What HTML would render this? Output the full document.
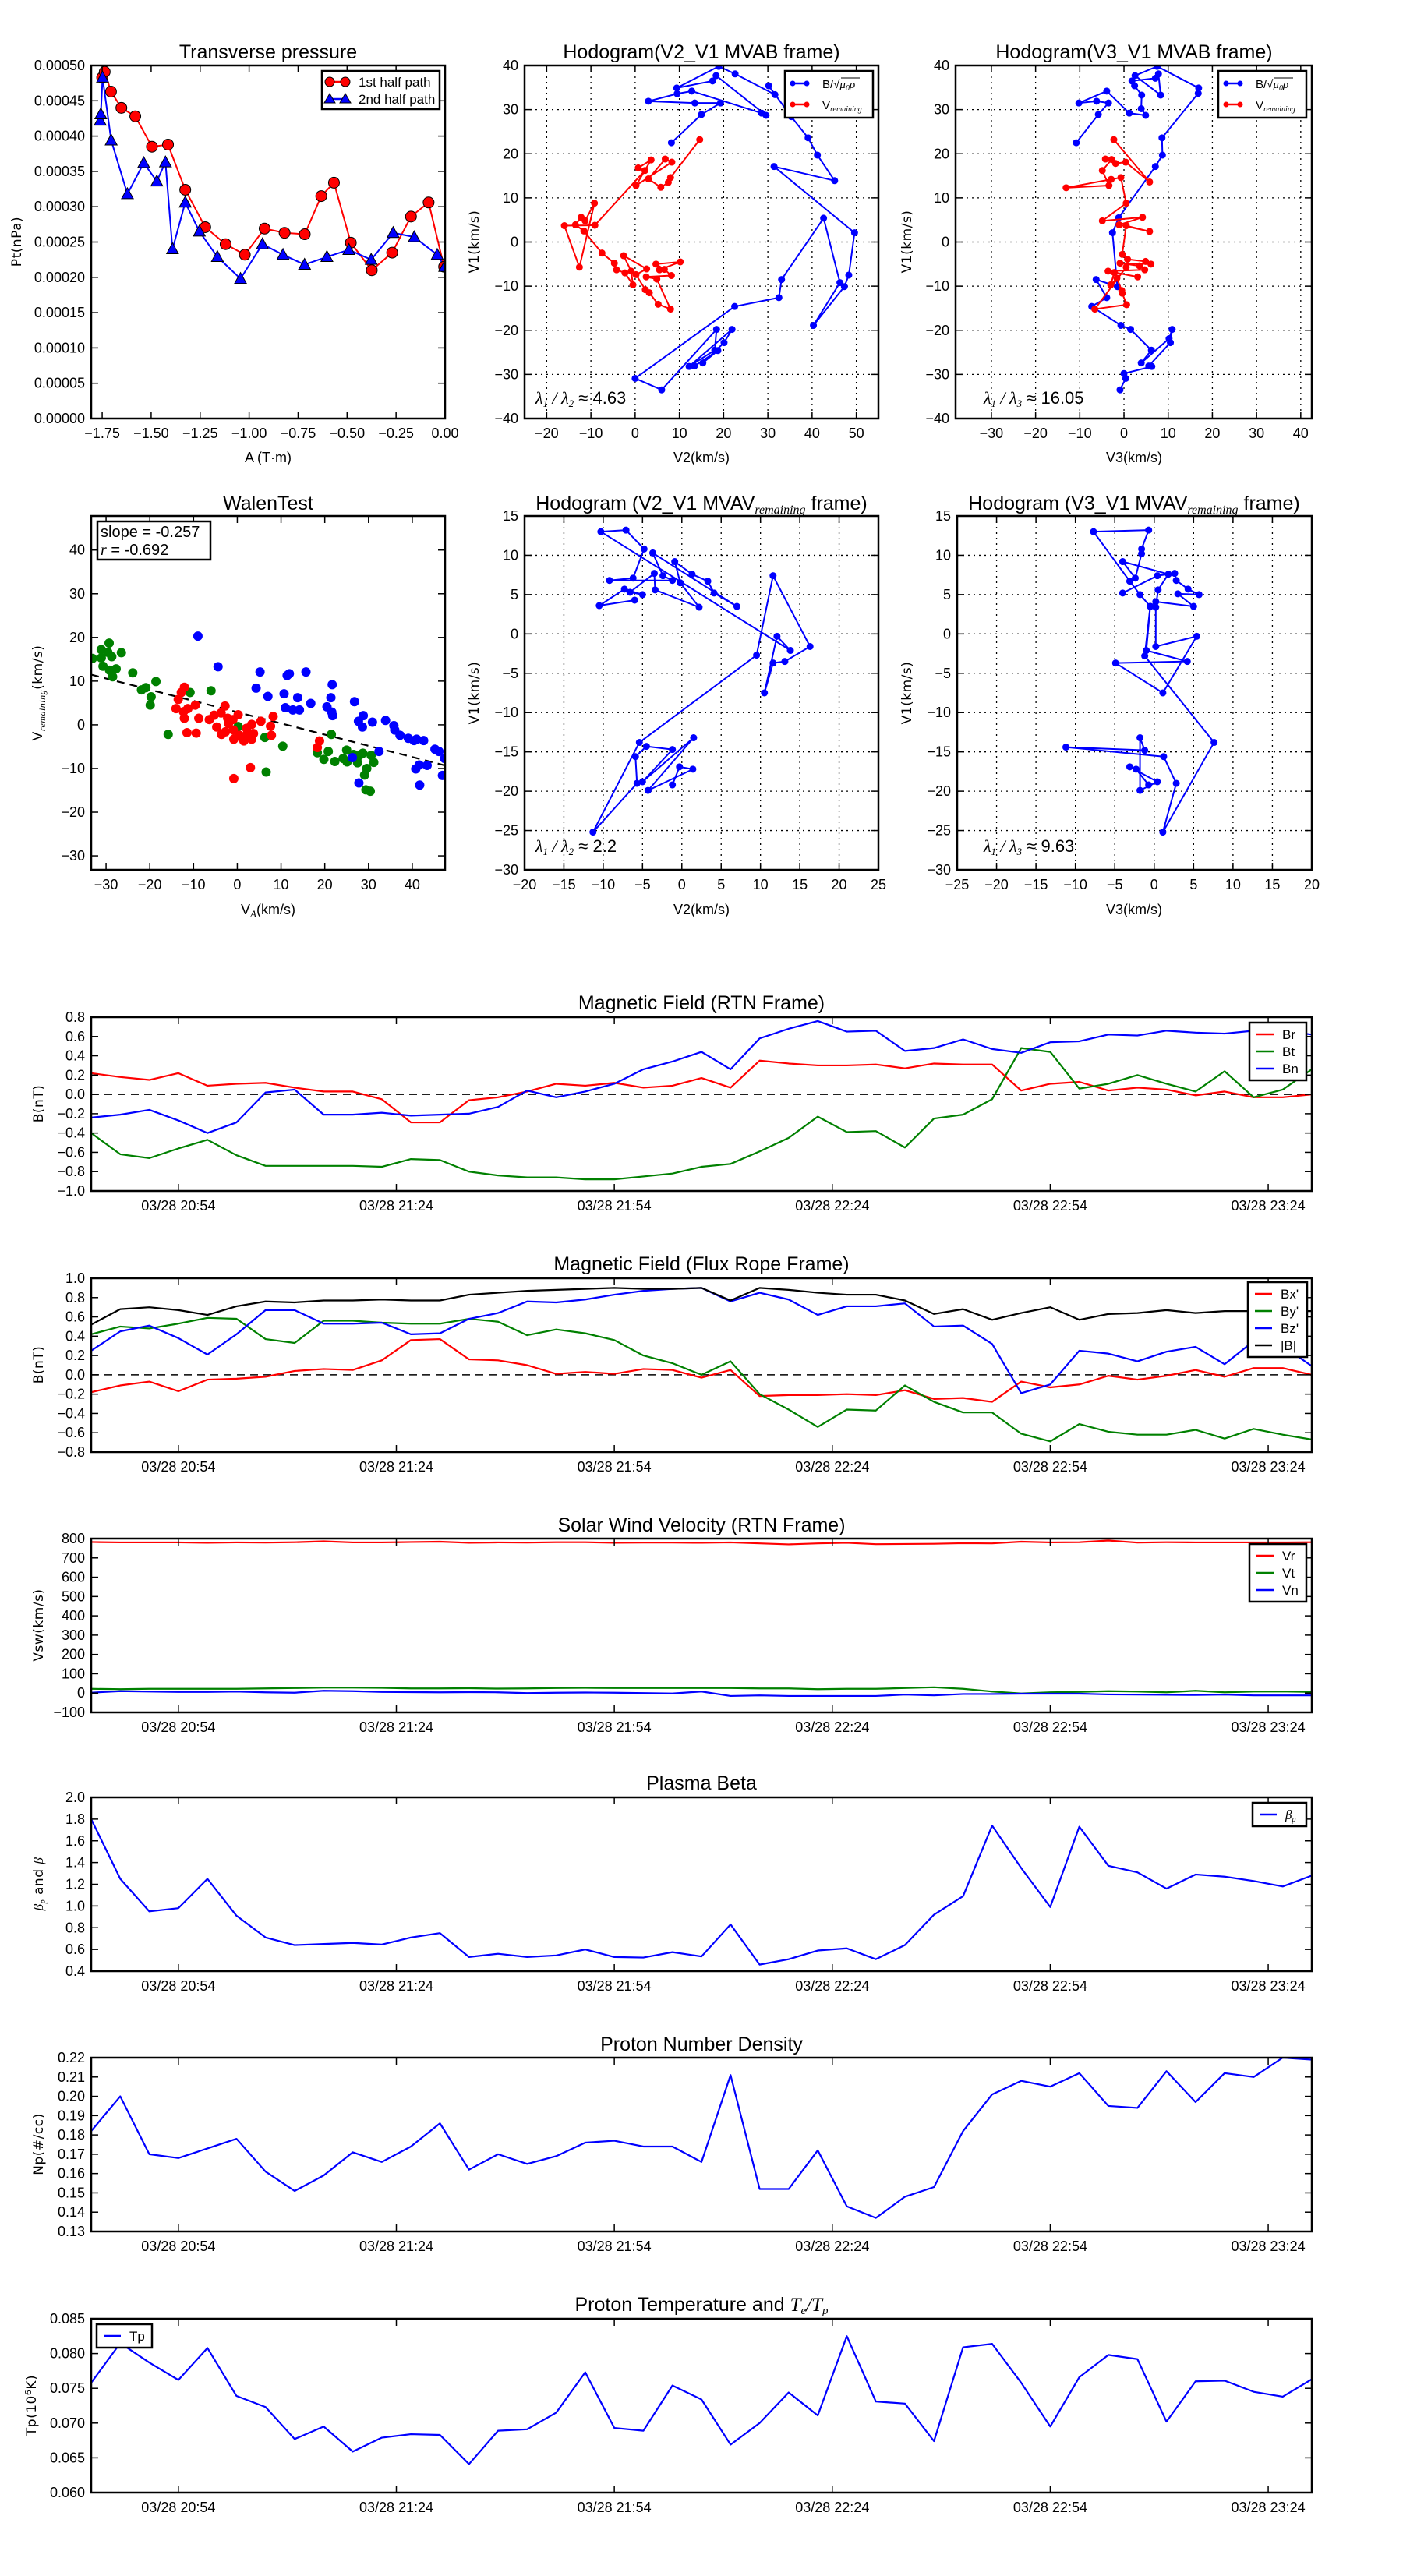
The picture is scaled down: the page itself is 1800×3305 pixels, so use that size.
<!DOCTYPE html>
<html><head><meta charset="utf-8"><title>Flux rope analysis</title>
<style>
body{margin:0;background:#fff}
svg text{font-family:"Liberation Sans",sans-serif;fill:#000}
.ti{font-size:25px}
.lb{font-family:"DejaVu Sans","Liberation Sans",sans-serif;font-size:17px;letter-spacing:0.5px}
.tk{font-size:18px}
.lg{font-size:17px}
.mt{font-family:"Liberation Serif",serif;font-style:italic}
</style></head>
<body>
<svg id="fig" width="1800" height="3300" xmlns="http://www.w3.org/2000/svg">
<rect x="0" y="0" width="1800" height="3300" fill="#fff"/>
<text class="ti" x="344" y="75" text-anchor="middle">Transverse pressure</text>
<text class="ti" x="900" y="75" text-anchor="middle">Hodogram(V2_V1 MVAB frame)</text>
<text class="ti" x="1455" y="75" text-anchor="middle">Hodogram(V3_V1 MVAB frame)</text>
<text class="ti" x="344" y="654" text-anchor="middle">WalenTest</text>
<text class="ti" x="900" y="654" text-anchor="middle">Hodogram (V2_V1 MVAV<tspan class="mt" font-size="16" dy="5">remaining</tspan><tspan dy="-5"> frame)</tspan></text>
<text class="ti" x="1455" y="654" text-anchor="middle">Hodogram (V3_V1 MVAV<tspan class="mt" font-size="16" dy="5">remaining</tspan><tspan dy="-5"> frame)</tspan></text>
<text class="ti" x="900" y="1295" text-anchor="middle">Magnetic Field (RTN Frame)</text>
<text class="ti" x="900" y="1630" text-anchor="middle">Magnetic Field (Flux Rope Frame)</text>
<text class="ti" x="900" y="1965" text-anchor="middle">Solar Wind Velocity (RTN Frame)</text>
<text class="ti" x="900" y="2296" text-anchor="middle">Plasma Beta</text>
<text class="ti" x="900" y="2631" text-anchor="middle">Proton Number Density</text>
<text class="ti" x="900" y="2965" text-anchor="middle">Proton Temperature and <tspan class="mt">T</tspan><tspan class="mt" font-size="15" dy="4">e</tspan><tspan class="mt" dy="-4">/T</tspan><tspan class="mt" font-size="15" dy="4">p</tspan></text>
<text class="tk" x="344" y="593" text-anchor="middle">A (T·m)</text>
<text class="tk" x="900" y="593" text-anchor="middle">V2(km/s)</text>
<text class="tk" x="1455" y="593" text-anchor="middle">V3(km/s)</text>
<text class="tk" x="344" y="1173" text-anchor="middle">V<tspan class="mt" font-size="13" dy="4">A</tspan><tspan dy="-4">(km/s)</tspan></text>
<text class="tk" x="900" y="1173" text-anchor="middle">V2(km/s)</text>
<text class="tk" x="1455" y="1173" text-anchor="middle">V3(km/s)</text>
<text class="lb" transform="translate(27,310) rotate(-90)" text-anchor="middle">Pt(nPa)</text>
<text class="lb" transform="translate(614,310) rotate(-90)" text-anchor="middle">V1(km/s)</text>
<text class="lb" transform="translate(1169,310) rotate(-90)" text-anchor="middle">V1(km/s)</text>
<text class="lb" transform="translate(54,889) rotate(-90)" text-anchor="middle">V<tspan class="mt" font-size="12" dy="4">remaining</tspan><tspan dy="-4">(km/s)</tspan></text>
<text class="lb" transform="translate(614,889) rotate(-90)" text-anchor="middle">V1(km/s)</text>
<text class="lb" transform="translate(1169,889) rotate(-90)" text-anchor="middle">V1(km/s)</text>
<text class="lb" transform="translate(55,1416) rotate(-90)" text-anchor="middle">B(nT)</text>
<text class="lb" transform="translate(55,1751) rotate(-90)" text-anchor="middle">B(nT)</text>
<text class="lb" transform="translate(55,2085) rotate(-90)" text-anchor="middle">Vsw(km/s)</text>
<text class="lb" font-size="14" transform="translate(55,2417) rotate(-90)" text-anchor="middle"><tspan class="mt">β</tspan><tspan class="mt" font-size="10" dy="3">p</tspan><tspan dy="-3"> and </tspan><tspan class="mt">β</tspan></text>
<text class="lb" transform="translate(55,2751) rotate(-90)" text-anchor="middle">Np(#/cc)</text>
<text class="lb" transform="translate(46,3086) rotate(-90)" text-anchor="middle">Tp(10<tspan font-size="11" dy="-6">6</tspan><tspan dy="6">K)</tspan></text>
<text font-size="22" x="687" y="518"><tspan class="mt">λ</tspan><tspan class="mt" font-size="13" dy="4">1</tspan><tspan class="mt" dy="-4"> / λ</tspan><tspan class="mt" font-size="13" dy="4">2</tspan><tspan dy="-4"> ≈ 4.63</tspan></text>
<text font-size="22" x="1262" y="518"><tspan class="mt">λ</tspan><tspan class="mt" font-size="13" dy="4">1</tspan><tspan class="mt" dy="-4"> / λ</tspan><tspan class="mt" font-size="13" dy="4">3</tspan><tspan dy="-4"> ≈ 16.05</tspan></text>
<text font-size="22" x="687" y="1093"><tspan class="mt">λ</tspan><tspan class="mt" font-size="13" dy="4">1</tspan><tspan class="mt" dy="-4"> / λ</tspan><tspan class="mt" font-size="13" dy="4">2</tspan><tspan dy="-4"> ≈ 2.2</tspan></text>
<text font-size="22" x="1262" y="1093"><tspan class="mt">λ</tspan><tspan class="mt" font-size="13" dy="4">1</tspan><tspan class="mt" dy="-4"> / λ</tspan><tspan class="mt" font-size="13" dy="4">3</tspan><tspan dy="-4"> ≈ 9.63</tspan></text>
</svg>
<script>
const ptRedA=[-1.75,-1.737,-1.705,-1.652,-1.581,-1.496,-1.414,-1.326,-1.224,-1.12,-1.022,-0.921,-0.819,-0.716,-0.632,-0.567,-0.481,-0.374,-0.27,-0.174,-0.084,-0.005];
const ptRedP=[0.000483,0.000491,0.000463,0.00044,0.000428,0.000385,0.000388,0.000324,0.000271,0.000247,0.000232,0.000269,0.000263,0.000261,0.000315,0.000334,0.000249,0.00021,0.000235,0.000286,0.000306,0.000215];
const ptBlueA=[-1.76,-1.757,-1.748,-1.704,-1.621,-1.538,-1.471,-1.427,-1.391,-1.326,-1.254,-1.162,-1.044,-0.932,-0.827,-0.717,-0.603,-0.491,-0.377,-0.265,-0.157,-0.04,-0.002];
const ptBlueP=[0.000422,0.000431,0.000483,0.000394,0.000318,0.000362,0.000336,0.000363,0.00024,0.000306,0.000265,0.000229,0.000198,0.000247,0.000232,0.000218,0.000229,0.000239,0.000225,0.000263,0.000257,0.000232,0.000215];
const hbBlueV2=[8.2,15.0,19.3,13.5,3.0,9.5,12.8,28.6,29.6,18.3,17.5,9.4,18.9,22.6,31.6,30.2,35.3,39.1,41.2,45.1,31.4,49.6,48.3,47.3,40.3,46.3,42.6,33.1,32.5,22.5,0,6.0,18.4,18.0,12.2,21.9,20.1,15.3,18.7,13.4];
const hbBlueV1=[22.5,28.9,31.5,31.5,31.9,33.6,34.2,29.2,28.7,37.7,36.5,34.9,39.8,38.1,33.4,35.4,28.4,23.6,19.7,13.9,17.1,2.1,-7.5,-10.1,-18.9,-9.2,5.4,-8.5,-12.6,-14.6,-30.9,-33.5,-19.8,-24.5,-28.2,-19.8,-22.8,-27.4,-24.6,-28.1];
const hbRedV2=[14.6,8.0,7.5,5.8,3.0,6.8,8.3,0.2,3.6,0.7,2.2,-9.1,-16.0,-12.6,-9.2,-11.3,-12.2,-13.5,-11.6,-7.5,-4.7,-4.2,-2.3,-0.5,-0.9,-2.6,2.6,0.2,2.3,3.2,5.2,8.0,4.9,2.5,8.2,6.6,4.7,10.2,5.5];
const hbRedV1=[23.2,14.6,13.5,12.4,14.3,18.8,18.1,12.8,18.6,16.8,16.2,3.8,3.7,-5.7,8.8,4.8,5.6,3.9,2.5,-2.5,-4.8,-6.3,-7.0,-9.7,-6.6,-3.1,-6.1,-7.4,-10.8,-11.5,-14.1,-15.2,-8.4,-7.9,-7.6,-6.2,-5.0,-4.5,-6.3];
const hcBlueV3=[-10.8,-5.8,-3.5,-6.2,-10.2,-3.9,1.2,4.9,3.9,4.0,2.4,1.8,7.1,7.8,8.3,2.5,7.5,16.9,16.8,8.6,8.7,7.1,-1.2,-2.6,-1.5,-6.3,-3.9,-7.3,-0.7,1.5,6.2,3.9,10.2,10.9,10.5,5.6,6.3,0,0.4,-0.9];
const hcBlueV1=[22.5,28.9,31.5,31.9,31.5,34.2,29.2,28.7,30.2,33.3,35.4,36.5,37.1,38.1,33.3,37.7,39.8,34.9,33.7,23.6,19.7,17.1,5.5,2.1,-10.1,-8.5,-12.6,-14.6,-18.9,-19.8,-24.5,-27.4,-21.9,-19.8,-22.8,-28.1,-28.2,-29.8,-30.9,-33.5];
const hcRedV3=[-2.3,5.8,0.4,-1.9,-4.2,-2.8,-4.9,-3.4,-13.1,-2.9,-0.7,0.5,-4.9,4.2,-1.1,5.8,0.5,-0.4,0.8,4.9,6.1,-0.9,3.5,4.7,-3.6,3.1,-2.2,-3.0,-1.6,-0.5,-0.4,0.6,-6.6,0.5];
const hcRedV1=[23.2,13.6,18.1,17.8,18.8,18.7,16.2,12.8,12.3,14.2,14.6,8.8,4.8,5.6,3.9,2.4,3.7,-2.8,-3.9,-4.4,-5.0,-4.8,-5.4,-6.3,-6.6,-7.9,-6.9,-9.7,-8.2,-11.0,-11.6,-14.2,-15.2,-5.7];
const wGreenX=[-33.1,-31.1,-29.3,-31.1,-29.6,-28.7,-26.5,-30.7,-29.2,-27.7,-28.5,-23.9,-21.9,-20.9,-18.6,-19.7,-19.9,-15.8,-10.8,-6.0,0.2,6.3,6.6,10.4,21.5,18.3,20.8,19.8,22.3,25.0,24.2,25.1,26.6,27.5,28.7,27.8,30.6,31.2,29.6,29.1,29.4,30.4];
const wGreenY=[15.2,17.2,18.7,15.3,16.6,15.6,16.5,13.4,12.5,12.8,11.0,11.9,8.0,8.5,9.9,6.4,4.5,-2.2,7.4,7.8,-0.4,-2.9,-10.8,-4.9,-2.2,-6.4,-6.1,-7.9,-8.4,-5.8,-7.7,-8.5,-6.8,-8.7,-6.5,-7.1,-7.0,-8.6,-10.0,-11.5,-14.9,-15.2];
const wRedX=[-12.1,-12.8,-13.5,-14.0,-12.3,-11.3,-12.1,-9.6,-8.8,-11.5,-9.4,-6.4,-5.3,-4.7,-3.7,-2.8,-3.6,-2.7,-2.2,-2.0,-1.0,0.2,-0.9,-0.8,0.5,1.5,2.1,2.3,3.3,3.3,3.7,5.4,7.6,7.8,8.2,3.0,-0.8,18.8,18.3];
const wRedY=[8.6,7.4,5.8,3.7,3.0,3.7,1.5,4.5,1.5,-1.8,-1.9,1.2,2.2,-0.5,2.7,4.3,-2.2,-1.6,1.5,0.3,1.2,2.3,-1.2,-3.3,-2.4,-3.7,-0.8,-2.1,-3.3,0.1,-2.0,0.8,-0.3,-2.4,1.9,-9.8,-12.3,-3.7,-5.2];
const wBlueX=[-9.0,-4.4,5.2,4.3,7.0,10.7,11.4,11.9,15.7,11.0,12.7,14.2,13.8,16.8,21.7,21.4,20.5,21.6,21.8,26.8,27.7,28.6,28.8,30.9,33.9,35.8,36.0,37.2,39.1,40.4,41.0,42.6,45.2,46.1,47.4,32.4,26.3,40.8,41.6,43.4,46.9,41.7,27.8];
const wBlueY=[20.3,13.3,12.1,8.4,6.5,7.1,11.3,11.7,12.1,3.9,3.4,3.4,6.2,4.9,9.2,6.2,4.1,2.9,2.1,5.3,0.8,-0.5,2.1,0.6,1.0,-0.2,-1.2,-2.4,-3.1,-3.6,-3.3,-3.6,-5.6,-6.1,-7.7,-6.1,-7.5,-10.1,-9.2,-9.3,-11.6,-13.8,-13.3];
const walenSlope=-0.257, walenIntercept=2.9;
const heV2=[-6.0,-10.5,-7.3,-5.0,-6.6,-3.5,-3.4,2.2,-0.2,-0.9,1.3,3.3,4.1,7.0,-3.7,-2.4,-1.2,-9.2,-6.2,-4.8,-7.1,-10.3,13.8,12.1,10.5,11.6,13.1,16.3,11.6,9.5,-5.4,-11.3,-5.7,-5.9,-4.5,-1.2,-5.0,1.5,-4.3,1.4,-0.3,-1.2];
const heV1=[4.3,3.6,5.7,5.0,5.3,7.7,5.6,3.4,6.5,9.2,7.6,6.7,5.2,3.5,10.3,7.4,6.8,6.8,7.1,10.8,13.2,13.0,-2.1,-0.3,-7.5,-3.7,-3.5,-1.6,7.4,-2.7,-13.8,-25.2,-19.0,-15.6,-14.3,-14.7,-18.8,-13.2,-19.9,-17.2,-16.9,-19.2];
const hfV3=[-4.0,0.4,2.6,2.8,4.3,5.7,3.0,5.0,0.2,-0.5,-1.8,-3.1,-7.7,-0.7,-1.6,-1.6,-2.4,-4.0,1.8,0.5,0.2,0.2,5.4,1.1,-4.9,4.2,-1.0,-0.5,-1.2,7.6,1.1,2.8,1.2,-11.2,-1.2,-1.8,-1.8,0.4,-3.1,-2.3,-0.7];
const hfV1=[5.2,7.4,7.7,6.8,5.7,5.0,5.1,3.5,4.1,3.5,5.0,6.7,13.0,13.2,10.8,10.2,7.1,9.2,7.6,5.6,3.4,-1.6,-0.3,-7.5,-3.7,-3.5,-2.1,3.5,-2.8,-13.8,-25.2,-19.0,-15.6,-14.4,-14.8,-13.2,-19.9,-18.8,-16.9,-17.2,-19.2];
const timeTickMin=[12,42,72,102,132,162];
const timeTickLabels=["03/28 20:54","03/28 21:24","03/28 21:54","03/28 22:24","03/28 22:54","03/28 23:24"];
const Br=[0.22,0.18,0.15,0.22,0.09,0.11,0.12,0.07,0.03,0.03,-0.05,-0.29,-0.29,-0.06,-0.03,0.03,0.11,0.09,0.12,0.07,0.09,0.17,0.07,0.35,0.32,0.30,0.30,0.31,0.27,0.32,0.31,0.31,0.04,0.11,0.13,0.04,0.07,0.05,-0.01,0.03,-0.03,-0.03,0.00];
const Bt=[-0.40,-0.62,-0.66,-0.56,-0.47,-0.63,-0.74,-0.74,-0.74,-0.74,-0.75,-0.67,-0.68,-0.80,-0.84,-0.86,-0.86,-0.88,-0.88,-0.85,-0.82,-0.75,-0.72,-0.59,-0.45,-0.23,-0.39,-0.38,-0.55,-0.25,-0.21,-0.05,0.48,0.44,0.06,0.11,0.20,0.11,0.03,0.24,-0.03,0.05,0.26];
const Bn=[-0.24,-0.21,-0.16,-0.27,-0.40,-0.29,0.02,0.05,-0.21,-0.21,-0.19,-0.22,-0.21,-0.20,-0.13,0.04,-0.03,0.03,0.11,0.26,0.34,0.44,0.26,0.58,0.68,0.76,0.65,0.66,0.45,0.48,0.57,0.47,0.43,0.54,0.55,0.62,0.61,0.66,0.64,0.63,0.66,0.66,0.62];
const Bxp=[-0.18,-0.11,-0.07,-0.17,-0.05,-0.04,-0.02,0.04,0.06,0.05,0.15,0.36,0.37,0.16,0.15,0.10,0.01,0.03,0.01,0.06,0.05,-0.03,0.05,-0.22,-0.21,-0.21,-0.20,-0.21,-0.16,-0.25,-0.24,-0.28,-0.07,-0.13,-0.10,-0.01,-0.05,-0.01,0.05,-0.02,0.07,0.07,0.00];
const Byp=[0.42,0.50,0.48,0.53,0.59,0.58,0.37,0.33,0.56,0.56,0.54,0.53,0.53,0.58,0.55,0.41,0.47,0.43,0.36,0.20,0.12,0.00,0.14,-0.20,-0.36,-0.54,-0.36,-0.37,-0.11,-0.28,-0.39,-0.39,-0.61,-0.69,-0.51,-0.59,-0.62,-0.62,-0.57,-0.66,-0.56,-0.62,-0.67];
const Bzp=[0.25,0.45,0.51,0.38,0.21,0.42,0.67,0.67,0.53,0.53,0.54,0.42,0.43,0.58,0.64,0.76,0.75,0.78,0.83,0.87,0.89,0.90,0.76,0.85,0.78,0.62,0.71,0.71,0.74,0.50,0.51,0.32,-0.19,-0.10,0.25,0.22,0.14,0.24,0.29,0.11,0.35,0.30,0.09];
const Bmag=[0.52,0.68,0.70,0.67,0.62,0.71,0.76,0.75,0.77,0.77,0.78,0.77,0.77,0.83,0.85,0.87,0.88,0.89,0.90,0.89,0.89,0.90,0.77,0.90,0.88,0.85,0.83,0.83,0.77,0.63,0.68,0.57,0.64,0.70,0.57,0.63,0.64,0.67,0.64,0.66,0.66,0.66,0.66];
const Vr=[782,780,780,780,778,780,779,781,786,780,780,782,784,778,780,779,781,781,778,779,779,778,780,775,770,775,778,771,772,773,776,775,784,780,781,790,779,781,780,780,780,780,781];
const Vt=[22,20,22,22,22,22,24,26,28,28,27,24,24,25,23,24,26,27,26,26,26,26,26,24,24,20,22,22,26,30,22,8,-2,4,6,10,8,4,12,4,8,8,6];
const Vn=[2,10,8,6,6,8,4,2,12,10,6,5,4,5,4,0,2,3,2,0,-2,8,-15,-12,-15,-15,-15,-15,-8,-12,-5,-5,-3,-3,-3,-7,-8,-9,-10,-8,-12,-12,-12];
const betaP=[1.8,1.25,0.95,0.98,1.25,0.91,0.71,0.64,0.65,0.66,0.645,0.71,0.75,0.53,0.56,0.53,0.545,0.60,0.53,0.525,0.575,0.535,0.83,0.46,0.51,0.59,0.61,0.51,0.64,0.92,1.09,1.74,1.35,0.99,1.73,1.37,1.31,1.16,1.29,1.27,1.23,1.18,1.28];
const Np=[0.182,0.200,0.170,0.168,0.173,0.178,0.161,0.151,0.159,0.171,0.166,0.174,0.186,0.162,0.170,0.165,0.169,0.176,0.177,0.174,0.174,0.166,0.211,0.152,0.152,0.172,0.143,0.137,0.148,0.153,0.182,0.201,0.208,0.205,0.212,0.195,0.194,0.213,0.197,0.212,0.210,0.220,0.219];
const Tp=[0.0758,0.0815,0.0787,0.0762,0.0808,0.0739,0.0723,0.0677,0.0695,0.0659,0.0679,0.0684,0.0683,0.0641,0.0689,0.0691,0.0715,0.0773,0.0693,0.0689,0.0754,0.0734,0.0669,0.0700,0.0744,0.0711,0.0825,0.0731,0.0728,0.0674,0.0809,0.0814,0.0758,0.0695,0.0766,0.0798,0.0792,0.0702,0.0760,0.0761,0.0745,0.0738,0.0763];

const NS='http://www.w3.org/2000/svg';
const svg=document.getElementById('fig');
let clipN=0;
function mk(tag,attrs,parent){const e=document.createElementNS(NS,tag);for(const k in attrs)e.setAttribute(k,attrs[k]);(parent||svg).appendChild(e);return e;}
function fmtMinus(s){return String(s).replace('-','\u2212');}
function range(a,b,s){const r=[];for(let v=a;v<=b+s*1e-6;v+=s)r.push(+v.toFixed(6));return r;}

function axes(o){
  const g=mk('g',{});
  
  
  const sx=v=>o.x0+(v-o.xmin)/(o.xmax-o.xmin)*o.w;
  const sy=v=>o.y0+o.h-(v-o.ymin)/(o.ymax-o.ymin)*o.h;
  const id='clip'+(clipN++);
  const cp=mk('clipPath',{id:id},g);
  mk('rect',{x:o.x0,y:o.y0,width:o.w,height:o.h},cp);
  const grid=mk('g',{},g);
  const data=mk('g',{'clip-path':'url(#'+id+')'},g);
  const frame=mk('g',{},g);
  o.xticks.forEach((v,i)=>{
    const x=sx(v); if(x<o.x0-0.5||x>o.x0+o.w+0.5)return;
    if(o.grid){const l=mk('line',{x1:x,x2:x,y1:o.y0,y2:o.y0+o.h,stroke:'#000','stroke-width':1.3,'stroke-dasharray':'2,5'},grid);
      
      }
    mk('line',{x1:x,x2:x,y1:o.y0+o.h,y2:o.y0+o.h-9,stroke:'#000','stroke-width':1.5},frame);
    mk('line',{x1:x,x2:x,y1:o.y0,y2:o.y0+9,stroke:'#000','stroke-width':1.5},frame);
    const t=mk('text',{x:x,y:o.y0+o.h+25,'text-anchor':'middle','class':'tk'},frame);
    t.textContent=o.xlabels?o.xlabels[i]:fmtMinus(o.xfmt?o.xfmt(v):v);
    
    
  });
  o.yticks.forEach(v=>{
    const y=sy(v); if(y<o.y0-0.5||y>o.y0+o.h+0.5)return;
    if(o.grid){const l=mk('line',{x1:o.x0,x2:o.x0+o.w,y1:y,y2:y,stroke:'#000','stroke-width':1.3,'stroke-dasharray':'2,5'},grid);
      
      }
    mk('line',{x1:o.x0,x2:o.x0+9,y1:y,y2:y,stroke:'#000','stroke-width':1.5},frame);
    mk('line',{x1:o.x0+o.w,x2:o.x0+o.w-9,y1:y,y2:y,stroke:'#000','stroke-width':1.5},frame);
    const t=mk('text',{x:o.x0-8,y:y+6,'text-anchor':'end','class':'tk'},frame);
    t.textContent=fmtMinus(o.yfmt?o.yfmt(v):v);
    
    
  });
  const r=mk('rect',{x:o.x0,y:o.y0,width:o.w,height:o.h,fill:'none',stroke:'#000','stroke-width':2.5},frame);
  
  
  return {sx,sy,data,frame,g};
}
function polyline(ax,xs,ys,color,name,w){
  const p=mk('polyline',{points:xs.map((x,i)=>ax.sx(x)+','+ax.sy(ys[i])).join(' '),fill:'none',stroke:color,'stroke-width':w||2,'stroke-linejoin':'round'},ax.data);
  
  
  return p;
}
function dots(ax,xs,ys,color,r,name,edge){
  xs.forEach((x,i)=>{
    const c=mk('circle',{cx:ax.sx(x),cy:ax.sy(ys[i]),r:r,fill:color,stroke:edge?'#000':'none','stroke-width':edge?1:0},ax.data);
    
    
  });
}
function tris(ax,xs,ys,color,s,name){
  xs.forEach((x,i)=>{
    const cx=ax.sx(x),cy=ax.sy(ys[i]);
    const p=mk('polygon',{points:`${cx},${cy-s} ${cx-s*0.95},${cy+s*0.75} ${cx+s*0.95},${cy+s*0.75}`,fill:color,stroke:'#000','stroke-width':1},ax.data);
    
    
  });
}
function legendBox(x,y,w,h,name){
  const g=mk('g',{});
  
  
  mk('rect',{x:x,y:y,width:w,height:h,fill:'#fff',stroke:'#000','stroke-width':2.5},g);
  return g;
}
function legLine(g,x,y,color,len){mk('line',{x1:x,x2:x+len,y1:y,y2:y,stroke:color,'stroke-width':2.5},g);}

const axA=axes({name:'transverse-pressure-chart',x0:117,y0:84,w:454,h:453,xmin:-1.806,xmax:0,ymin:0,ymax:0.0005,
  xticks:range(-1.75,0,0.25),yticks:range(0,0.0005,0.00005),xfmt:v=>v.toFixed(2),yfmt:v=>v.toFixed(5)});
polyline(axA,ptRedA,ptRedP,'#ff0000','first-half-path-line');
polyline(axA,ptBlueA,ptBlueP,'#0000ff','second-half-path-line');
dots(axA,ptRedA,ptRedP,'#ff0000',7,'first-half-path-point',true);
tris(axA,ptBlueA,ptBlueP,'#0000ff',8,'second-half-path-point');
(function(){
  const g=legendBox(413,91,151,49,'legend-transverse-pressure');
  legLine(g,421,105,'#ff0000',20);
  mk('circle',{cx:423,cy:105,r:6,fill:'#ff0000',stroke:'#000'},g);
  mk('circle',{cx:443,cy:105,r:6,fill:'#ff0000',stroke:'#000'},g);
  legLine(g,421,127,'#0000ff',20);
  mk('polygon',{points:'423,120 416,132 430,132',fill:'#0000ff',stroke:'#000'},g);
  mk('polygon',{points:'443,120 436,132 450,132',fill:'#0000ff',stroke:'#000'},g);
  const t1=mk('text',{x:460,y:111,'class':'lg'},g);t1.textContent='1st half path';
  
  
  const t2=mk('text',{x:460,y:133,'class':'lg'},g);t2.textContent='2nd half path';
  
  
})();

function hodoLegend(x,y,name){
  const g=legendBox(x,y,113,60,name);
  legLine(g,x+8,y+16,'#0000ff',20);
  mk('circle',{cx:x+10,cy:y+16,r:3.5,fill:'#0000ff'},g);mk('circle',{cx:x+28,cy:y+16,r:3.5,fill:'#0000ff'},g);
  legLine(g,x+8,y+43,'#ff0000',20);
  mk('circle',{cx:x+10,cy:y+43,r:3.5,fill:'#ff0000'},g);mk('circle',{cx:x+28,cy:y+43,r:3.5,fill:'#ff0000'},g);
  const t1=mk('text',{x:x+48,y:y+22,'font-size':'15'},g);
  t1.innerHTML='B/√<tspan class="mt">μ</tspan><tspan class="mt" font-size="10" dy="3">0</tspan><tspan class="mt" dy="-3">ρ</tspan>';
  
  
  mk('line',{x1:x+72,x2:x+96,y1:y+9,y2:y+9,stroke:'#000','stroke-width':1},g);
  const t2=mk('text',{x:x+48,y:y+49,'font-size':'15'},g);
  t2.innerHTML='V<tspan class="mt" font-size="10" dy="3">remaining</tspan>';
  
  
}
const axB=axes({name:'hodogram-v2-v1-mvab-chart',x0:673,y0:84,w:454,h:453,xmin:-25,xmax:55,ymin:-40,ymax:40,
  xticks:range(-20,50,10),yticks:range(-40,40,10),grid:true});
polyline(axB,hbBlueV2,hbBlueV1,'#0000ff','b-field-path');
dots(axB,hbBlueV2,hbBlueV1,'#0000ff',4.5,'b-field-point');
polyline(axB,hbRedV2,hbRedV1,'#ff0000','v-remaining-path');
dots(axB,hbRedV2,hbRedV1,'#ff0000',4.5,'v-remaining-point');
hodoLegend(1007,91,'legend-hodogram-b');
const axC=axes({name:'hodogram-v3-v1-mvab-chart',x0:1226,y0:84,w:457,h:453,xmin:-38.1,xmax:42.5,ymin:-40,ymax:40,
  xticks:range(-30,40,10),yticks:range(-40,40,10),grid:true});
polyline(axC,hcBlueV3,hcBlueV1,'#0000ff','b-field-path');
dots(axC,hcBlueV3,hcBlueV1,'#0000ff',4.5,'b-field-point');
polyline(axC,hcRedV3,hcRedV1,'#ff0000','v-remaining-path');
dots(axC,hcRedV3,hcRedV1,'#ff0000',4.5,'v-remaining-point');
hodoLegend(1563,91,'legend-hodogram-c');
const axD=axes({name:'walen-test-chart',x0:117,y0:662,w:454,h:454,xmin:-33.4,xmax:47.5,ymin:-33.2,ymax:47.8,
  xticks:range(-30,40,10),yticks:range(-30,40,10)});
(function(){
  const x1=-33.4,x2=47.5;
  const l=mk('line',{x1:axD.sx(x1),y1:axD.sy(walenSlope*x1+walenIntercept),x2:axD.sx(x2),y2:axD.sy(walenSlope*x2+walenIntercept),stroke:'#000','stroke-width':2.2,'stroke-dasharray':'10,7'},axD.data);
  
  
})();
dots(axD,wGreenX,wGreenY,'#008000',6,'walen-point-green');
dots(axD,wRedX,wRedY,'#ff0000',6,'walen-point-red');
dots(axD,wBlueX,wBlueY,'#0000ff',6,'walen-point-blue');
(function(){
  const g=legendBox(125,669,145,49,'walen-stats-box');
  const t1=mk('text',{x:129,y:689,'font-size':'20'},g);t1.textContent='slope = -0.257';
  
  
  const t2=mk('text',{x:129,y:712,'font-size':'20'},g);t2.innerHTML='<tspan class="mt">r</tspan> = -0.692';
  
  
})();
const axE=axes({name:'hodogram-v2-v1-mvav-chart',x0:673,y0:662,w:454,h:454,xmin:-20,xmax:25,ymin:-30,ymax:15,
  xticks:range(-20,25,5),yticks:range(-30,15,5),grid:true});
polyline(axE,heV2,heV1,'#0000ff','b-field-path');
dots(axE,heV2,heV1,'#0000ff',4.5,'b-field-point');
const axF=axes({name:'hodogram-v3-v1-mvav-chart',x0:1228,y0:662,w:455,h:454,xmin:-25,xmax:20,ymin:-30,ymax:15,
  xticks:range(-25,20,5),yticks:range(-30,15,5),grid:true});
polyline(axF,hfV3,hfV1,'#0000ff','b-field-path');
dots(axF,hfV3,hfV1,'#0000ff',4.5,'b-field-point');

const tIdx=Br.map((_,i)=>i*4);
function tsAxes(name,top,ymin,ymax,step,fmt){
  return axes({name:name,x0:117,y0:top,w:1566,h:223,xmin:0,xmax:168,ymin:ymin,ymax:ymax,
    xticks:timeTickMin,xlabels:timeTickLabels,yticks:range(ymin,ymax,step),yfmt:fmt});
}
function zeroLine(ax){const l=mk('line',{x1:ax.sx(0),x2:ax.sx(168),y1:ax.sy(0),y2:ax.sy(0),stroke:'#000','stroke-width':1.5,'stroke-dasharray':'10,7'},ax.data);
  
  }
function tsLegend(x,y,w,entries,name){
  const g=legendBox(x,y,w,entries.length*22+8,name);
  entries.forEach((e,i)=>{
    legLine(g,x+9,y+15+i*22,e[0],22);
    const t=mk('text',{x:x+42,y:y+21+i*22,'class':'lg','font-size':'16'},g);
    t.innerHTML=e[1];
    
    
  });
}
const f1=v=>v.toFixed(1), f2=v=>v.toFixed(2), f3=v=>v.toFixed(3), f0=v=>v.toFixed(0);
const axR=tsAxes('magnetic-field-rtn-chart',1305,-1.0,0.8,0.2,f1);
zeroLine(axR);
polyline(axR,tIdx,Br,'#ff0000','br-line',2.2);
polyline(axR,tIdx,Bt,'#008000','bt-line',2.2);
polyline(axR,tIdx,Bn,'#0000ff','bn-line',2.2);
tsLegend(1603,1312,73,[['#ff0000','Br'],['#008000','Bt'],['#0000ff','Bn']],'legend-rtn');
const axFR=tsAxes('magnetic-field-flux-rope-chart',1640,-0.8,1.0,0.2,f1);
zeroLine(axFR);
polyline(axFR,tIdx,Bxp,'#ff0000','bx-prime-line',2.2);
polyline(axFR,tIdx,Byp,'#008000','by-prime-line',2.2);
polyline(axFR,tIdx,Bzp,'#0000ff','bz-prime-line',2.2);
polyline(axFR,tIdx,Bmag,'#000000','b-magnitude-line',2.2);
tsLegend(1601,1645,76,[['#ff0000',"Bx'"],['#008000',"By'"],['#0000ff',"Bz'"],['#000000','|B|']],'legend-flux-rope');
const axV=tsAxes('solar-wind-velocity-chart',1974,-100,800,100,f0);
polyline(axV,tIdx,Vr,'#ff0000','vr-line',2.2);
polyline(axV,tIdx,Vt,'#008000','vt-line',2.2);
polyline(axV,tIdx,Vn,'#0000ff','vn-line',2.2);
tsLegend(1603,1981,73,[['#ff0000','Vr'],['#008000','Vt'],['#0000ff','Vn']],'legend-velocity');
const axBeta=tsAxes('plasma-beta-chart',2306,0.4,2.0,0.2,f1);
polyline(axBeta,tIdx,betaP,'#0000ff','beta-p-line',2.2);
tsLegend(1607,2313,69,[['#0000ff','<tspan class="mt">β</tspan><tspan class="mt" font-size="10" dy="3">p</tspan>']],'legend-beta');
const axNp=tsAxes('proton-density-chart',2640,0.13,0.22,0.01,f2);
polyline(axNp,tIdx,Np,'#0000ff','np-line',2.2);
const axTp=tsAxes('proton-temperature-chart',2975,0.060,0.085,0.005,f3);
polyline(axTp,tIdx,Tp,'#0000ff','tp-line',2.2);
tsLegend(124,2982,71,[['#0000ff','Tp']],'legend-temperature');
</script>
</body></html>
